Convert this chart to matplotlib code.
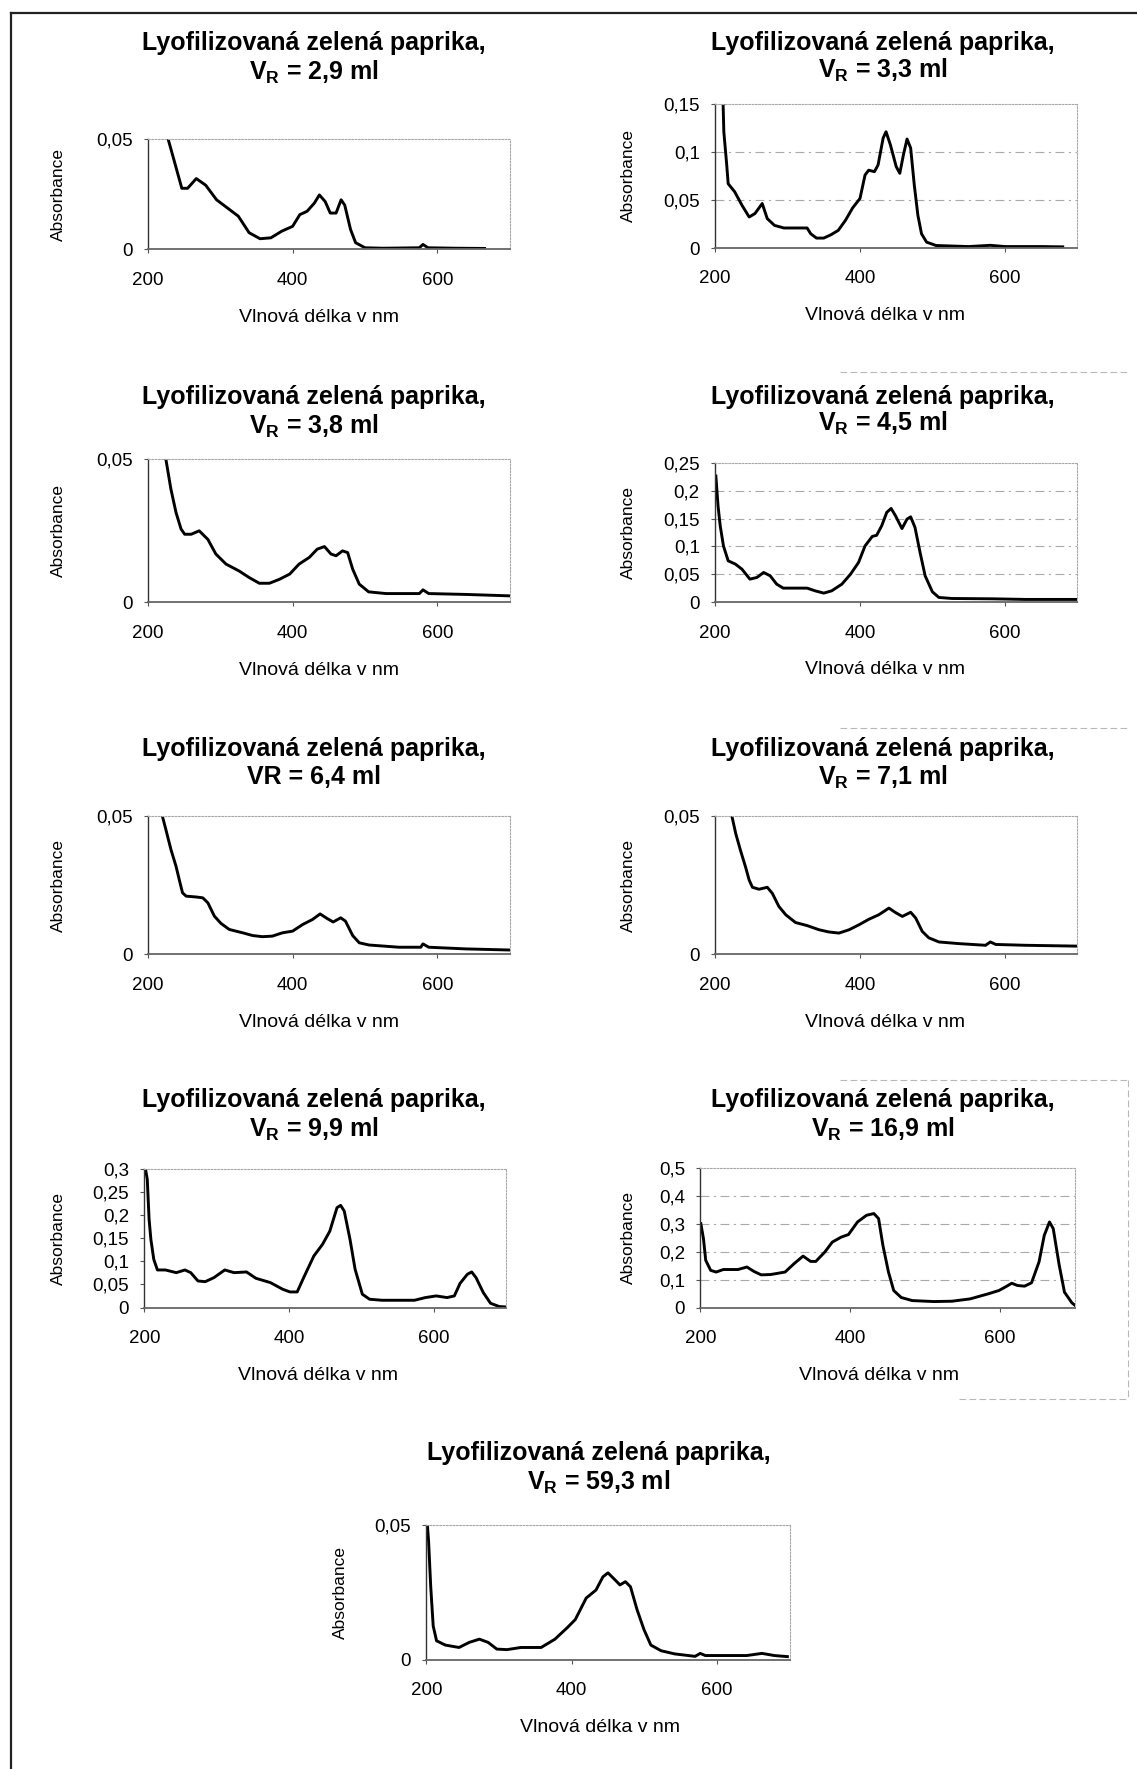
import matplotlib
matplotlib.use("Agg")
import matplotlib.pyplot as plt
from matplotlib.lines import Line2D

plt.rcParams["font.family"] = ["Liberation Sans", "DejaVu Sans"]
plt.rcParams["mathtext.fontset"] = "custom"
plt.rcParams["mathtext.rm"] = "Liberation Sans:bold"
plt.rcParams["mathtext.it"] = "Liberation Sans:bold"
plt.rcParams["mathtext.bf"] = "Liberation Sans:bold"

# ---------------------------------------------------------------- data
TITLE = "Lyofilizovaná zelená paprika,"
subtitles = [r"V$_\mathrm{R}$ = 2,9 ml", r"V$_\mathrm{R}$ = 3,3 ml",
             r"V$_\mathrm{R}$ = 3,8 ml", r"V$_\mathrm{R}$ = 4,5 ml",
             "VR = 6,4 ml", r"V$_\mathrm{R}$ = 7,1 ml",
             r"V$_\mathrm{R}$ = 9,9 ml", r"V$_\mathrm{R}$ = 16,9 ml",
             r"V$_\mathrm{R}$ = 59,3 ml"]
xlabel = "Vlnová délka v nm"
ylabel = "Absorbance"
x_ticks = [200, 400, 600]
y_max = [0.05, 0.15, 0.05, 0.25, 0.05, 0.05, 0.3, 0.5, 0.05]
y_step = [0.05, 0.05, 0.05, 0.05, 0.05, 0.05, 0.05, 0.1, 0.05]

wl_29 = [228, 235, 247, 255, 267, 280, 295, 310, 325, 340, 355, 370, 385, 400, 410,
         420, 430, 437, 445, 452, 460, 467, 472, 480, 487, 500, 525, 575, 580, 587,
         625, 665]
ab_29 = [0.050, 0.0418, 0.0276, 0.0276, 0.032, 0.029, 0.0224, 0.0187, 0.015, 0.0075,
         0.0048, 0.0052, 0.0082, 0.0104, 0.0157, 0.0172, 0.0209, 0.0246, 0.0216, 0.0164,
         0.0164, 0.0224, 0.020, 0.009, 0.003, 0.0007, 0.0005, 0.0007, 0.0022, 0.0007,
         0.0005, 0.0004]

wl_33 = [211, 212, 216, 218, 227, 237, 247, 255, 265, 272, 282, 295, 310, 327, 332,
         340, 350, 360, 370, 380, 390, 400, 407, 412, 420, 425, 432, 436, 442, 450,
         455, 460, 465, 470, 475, 480, 485, 492, 505, 550, 580, 600, 650, 680]
ab_33 = [0.150, 0.121, 0.0865, 0.067, 0.0586, 0.0447, 0.0324, 0.036, 0.0464, 0.0307,
         0.0237, 0.021, 0.021, 0.021, 0.015, 0.0105, 0.0105, 0.014, 0.0185, 0.029,
         0.042, 0.0516, 0.076, 0.081, 0.0795, 0.0865, 0.1144, 0.121, 0.1074, 0.0848,
         0.0778, 0.097, 0.1134, 0.104, 0.0656, 0.034, 0.015, 0.0063, 0.0028, 0.0017,
         0.003, 0.0017, 0.0017, 0.0014]

wl_38 = [225, 232, 239, 246, 251, 260, 271, 283, 294, 308, 326, 340, 354, 368, 382,
         396, 409, 423, 434, 444, 453, 460, 469, 476, 483, 492, 505, 529, 575, 580,
         588, 639, 700]
ab_38 = [0.050, 0.0395, 0.0314, 0.0256, 0.0238, 0.0238, 0.025, 0.022, 0.0169, 0.0134,
         0.011, 0.0087, 0.0067, 0.0067, 0.0081, 0.0099, 0.0134, 0.0157, 0.0186, 0.0195,
         0.0169, 0.0163, 0.018, 0.0174, 0.0116, 0.0064, 0.0037, 0.0031, 0.0031, 0.0044,
         0.0031, 0.0028, 0.0023]

wl_45 = [201, 204, 207, 211.5, 218, 228, 237, 248, 257.6, 267, 276, 285, 294, 311,
         327, 338, 350, 361, 375, 387, 398, 407, 417, 423, 430, 437, 443, 449, 458,
         465, 470, 476, 483, 490, 500, 509, 527, 583, 629, 700]
ab_45 = [0.226, 0.1726, 0.137, 0.101, 0.0744, 0.0685, 0.0595, 0.0417, 0.0446, 0.0536,
         0.0476, 0.0327, 0.0256, 0.0256, 0.0256, 0.0208, 0.0167, 0.0208, 0.0327, 0.0506,
         0.0714, 0.101, 0.118, 0.120, 0.137, 0.161, 0.168, 0.155, 0.132, 0.149,
         0.153, 0.134, 0.0893, 0.0476, 0.019, 0.0089, 0.0071, 0.0065, 0.0054, 0.0054]

wl_64 = [220, 225, 232, 239, 244, 248, 253, 267, 276, 283, 292, 301, 312.6, 331, 345,
         358.5, 372, 386, 400, 414, 427.5, 438, 448, 456, 466.5, 473, 483, 492, 505.6,
         547, 577, 580, 588, 639, 700]
ab_64 = [0.050, 0.045, 0.0378, 0.0318, 0.0264, 0.0222, 0.021, 0.0207, 0.0204, 0.0186,
         0.0138, 0.0112, 0.009, 0.0078, 0.0068, 0.0064, 0.0066, 0.0078, 0.0084, 0.0108,
         0.0126, 0.0146, 0.0129, 0.0117, 0.0132, 0.012, 0.0068, 0.0042, 0.0034, 0.0026,
         0.0026, 0.0038, 0.0026, 0.002, 0.0016]

wl_71 = [223, 228.5, 235, 242, 247, 251.5, 260.7, 272, 279, 288, 297.5, 311, 327,
         343.5, 357, 371, 385, 398.7, 412.5, 426, 440, 449, 458.5, 470, 477, 486, 495,
         509, 536.7, 573.5, 580, 587.5, 628.7, 700]
ab_71 = [0.050, 0.0435, 0.0375, 0.0315, 0.0268, 0.0242, 0.0235, 0.0242, 0.022, 0.0173,
         0.0143, 0.0115, 0.0104, 0.0089, 0.0081, 0.0077, 0.0089, 0.0107, 0.0127, 0.0143,
         0.0167, 0.0151, 0.0137, 0.0152, 0.0131, 0.0083, 0.006, 0.0045, 0.0039, 0.0033,
         0.0045, 0.0036, 0.0033, 0.003]

wl_99 = [201.5, 204, 206.5, 209, 213, 218, 229, 244, 256, 264, 274, 284, 296, 311,
         324, 341, 354, 374, 391, 401, 411, 421, 434, 446, 456, 466, 471, 476, 484,
         491, 501, 511, 528, 573, 588, 603, 618, 628, 636, 646, 652, 658, 668, 678,
         690, 699]
ab_99 = [0.300, 0.277, 0.191, 0.147, 0.104, 0.0813, 0.0813, 0.0755, 0.0813, 0.0755,
         0.0575, 0.056, 0.0647, 0.0813, 0.0755, 0.077, 0.0633, 0.054, 0.0396, 0.0338,
         0.0338, 0.0683, 0.1115, 0.1367, 0.165, 0.216, 0.221, 0.2086, 0.147, 0.0827,
         0.0288, 0.018, 0.0158, 0.0158, 0.0216, 0.0252, 0.0216, 0.0252, 0.0525, 0.072,
         0.077, 0.0647, 0.0324, 0.0093, 0.0022, 0.0014]

wl_169 = [200.5, 204, 207, 213.6, 221, 230.5, 250, 262, 271.5, 281, 293.5, 313, 325,
          337, 347, 354, 366, 376, 388, 397.6, 409.7, 421.8, 431.5, 437.8, 443.6, 451,
          458, 468, 482.6, 511.6, 535.8, 560, 584, 598.5, 608, 615.7, 623, 632.7, 642,
          652, 659, 666, 671, 679, 686, 696, 700.5]
ab_169 = [0.300, 0.246, 0.169, 0.133, 0.127, 0.136, 0.136, 0.145, 0.129, 0.117, 0.118,
          0.127, 0.157, 0.184, 0.165, 0.165, 0.1985, 0.234, 0.252, 0.261, 0.306, 0.330,
          0.336, 0.318, 0.222, 0.127, 0.061, 0.036, 0.025, 0.0215, 0.0227, 0.031, 0.049,
          0.061, 0.075, 0.087, 0.079, 0.0765, 0.0885, 0.163, 0.258, 0.306, 0.282, 0.151,
          0.055, 0.0167, 0.007]

wl_593 = [201.4, 203, 206, 209.4, 214, 226, 245, 259, 273, 285, 297, 311, 330, 358,
          377, 394, 405, 420, 433.5, 443, 450, 460, 466.5, 474, 481, 490, 499.5, 509,
          523, 542, 570, 577, 584, 641, 662, 679, 697]
ab_593 = [0.050, 0.0443, 0.0271, 0.0125, 0.007, 0.0054, 0.0045, 0.0064, 0.0076, 0.0064,
          0.0039, 0.0037, 0.0045, 0.0045, 0.0076, 0.0119, 0.0149, 0.0229, 0.0259, 0.0308,
          0.0323, 0.0296, 0.0278, 0.029, 0.0271, 0.0186, 0.0112, 0.0054, 0.0033, 0.0021,
          0.0012, 0.0023, 0.0015, 0.0015, 0.0023, 0.0015, 0.0011]

spectra = [(wl_29, ab_29), (wl_33, ab_33), (wl_38, ab_38), (wl_45, ab_45),
           (wl_64, ab_64), (wl_71, ab_71), (wl_99, ab_99), (wl_169, ab_169),
           (wl_593, ab_593)]
gridded = [False, True, False, True, False, False, False, True, False]

# ---------------------------------------------------------------- layout
W, H = 1137, 1769
SX, SY = W / 1008, H / 1568          # layout units -> pixels

# axes boxes: left, top, right, bottom
boxes = [(131, 123, 452, 221), (634, 92, 955, 220),
         (131, 407, 452, 534), (634, 410, 955, 534),
         (131, 723, 452, 846), (634, 723, 955, 846),
         (128, 1036, 449, 1159), (621, 1035, 953, 1159),
         (378, 1352, 700, 1471)]
title_x = [278, 783, 278, 783, 278, 783, 278, 783, 531]
title_y1 = [38, 38, 352, 352, 664, 664, 975, 975, 1288]
title_y2 = [64, 62, 378, 375, 689, 689, 1001, 1001, 1314]
xlab_pos = [(283, 281), (785, 280), (283, 594), (785, 593), (283, 906),
            (785, 906), (282, 1219), (779, 1219), (532, 1531)]
ylab_x = [52, 557, 52, 557, 52, 557, 52, 557, 302]


def fx(x):
    return x * SX / W


def fy(y):
    return 1 - y * SY / H


def fmt(v):
    s = f"{v:.2f}".rstrip("0").rstrip(".")
    return s.replace(".", ",")


fig = plt.figure(figsize=(W / 100, H / 100), dpi=100)
fig.patch.set_facecolor("white")

for i, (wl, ab) in enumerate(spectra):
    l, t, r, b = boxes[i]
    ax = fig.add_axes([fx(l), fy(b), fx(r) - fx(l), fy(t) - fy(b)])
    ax.plot(wl, ab, color="black", lw=2.1, solid_joinstyle="round")
    ax.set_xlim(200, 700)
    ax.set_ylim(0, y_max[i])
    ax.set_xticks(x_ticks)
    ax.set_xticklabels([str(v) for v in x_ticks])
    n = int(round(y_max[i] / y_step[i]))
    yt = [k * y_step[i] for k in range(n + 1)]
    ax.set_yticks(yt)
    ax.set_yticklabels([fmt(v) for v in yt])
    ax.tick_params(axis="x", length=3, width=0.8, pad=13, labelsize=13.5,
                   color="#555555")
    ax.tick_params(axis="y", length=3, width=0.8, pad=8, labelsize=13.5,
                   color="#555555")
    for s in ("top", "right"):
        ax.spines[s].set_color("#a8a8a8")
        ax.spines[s].set_linestyle((0, (1.5, 1.5)))
        ax.spines[s].set_linewidth(0.8)
    ax.spines["left"].set_color("#333333")
    ax.spines["left"].set_linewidth(1.0)
    ax.spines["bottom"].set_color("#666666")
    ax.spines["bottom"].set_linewidth(1.3)
    if gridded[i]:
        for v in yt[1:-1]:
            ax.axhline(v, color="#aaaaaa", lw=0.8,
                       linestyle=(0, (8, 4, 2, 4)), zorder=0)

    fig.text(fx(title_x[i]), fy(title_y1[i]), TITLE, ha="center", va="center",
             fontsize=18, fontweight="bold")
    fig.text(fx(title_x[i]), fy(title_y2[i]), subtitles[i], ha="center",
             va="center", fontsize=18, fontweight="bold")
    fig.text(fx(xlab_pos[i][0]), fy(xlab_pos[i][1]), xlabel, ha="center",
             va="center", fontsize=14)
    fig.text(fx(ylab_x[i]), fy((t + b) / 2), ylabel, ha="center", va="center",
             rotation=90, fontsize=12.5)

# page frame (top and left edges)
fig.add_artist(Line2D([11 / W, 1.0], [1 - 13 / H, 1 - 13 / H],
                      transform=fig.transFigure, color="#222222", lw=1.6))
fig.add_artist(Line2D([11 / W, 11 / W], [0.0, 1 - 13 / H],
                      transform=fig.transFigure, color="#222222", lw=1.6))

# faint chart-area outlines of the right-hand charts
frame_style = dict(transform=fig.transFigure, color="#b8b8b8", lw=0.8,
                   linestyle=(0, (6, 3)))
for yy in (330, 645, 957):
    fig.add_artist(Line2D([fx(745), fx(1000)], [fy(yy), fy(yy)], **frame_style))
fig.add_artist(Line2D([fx(850), fx(1000)], [fy(1240), fy(1240)], **frame_style))
fig.add_artist(Line2D([fx(1000), fx(1000)], [fy(957), fy(1240)], **frame_style))

fig.savefig("out.png", dpi=100, facecolor="white")
